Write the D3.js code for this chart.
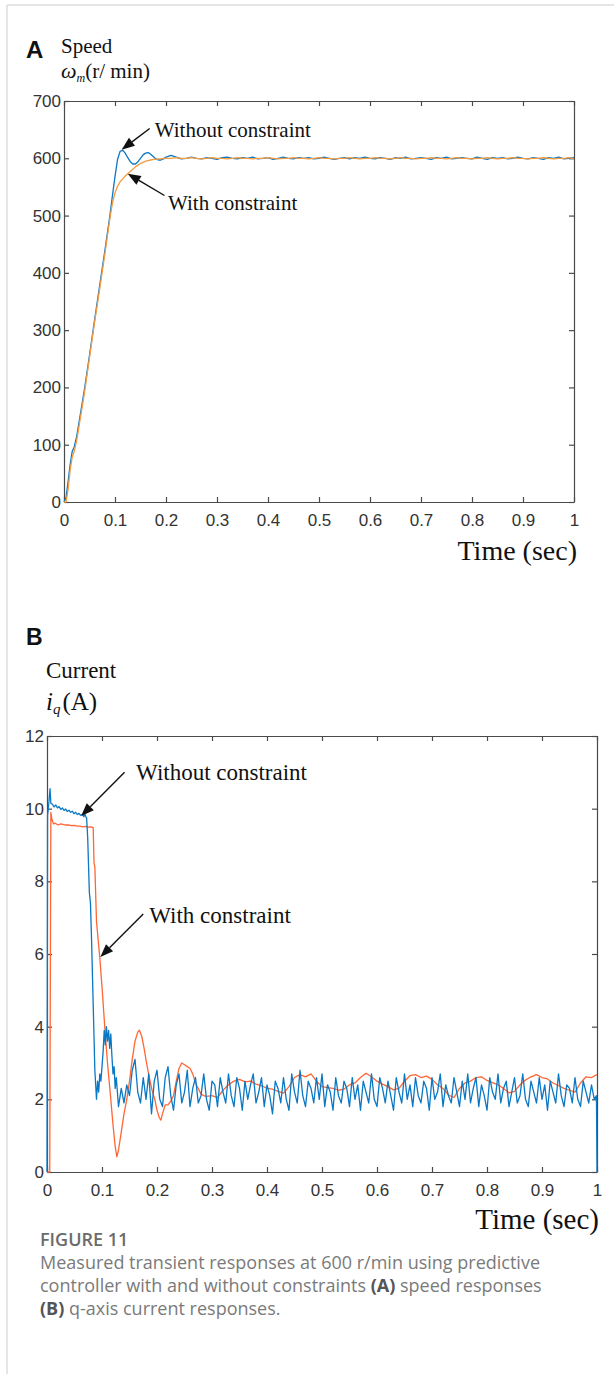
<!DOCTYPE html>
<html>
<head>
<meta charset="utf-8">
<script src="https://cdn.jsdelivr.net/npm/d3@7"></script>
<style>
body { margin: 0; background: #fff; }
</style>
</head>
<body>
<div id="content"></div>
<script>
// Set up canvas
var width = 614, height = 1374;

// ---- Panel A: speed (r/min) ----
var speedTime = [0, 0.004, 0.008, 0.012, 0.016, 0.02, 0.025, 0.03, 0.04, 0.05, 0.06, 0.07, 0.08, 0.09, 0.095,
  0.1, 0.105, 0.11, 0.115, 0.12, 0.125, 0.13, 0.135, 0.14, 0.145, 0.15, 0.155, 0.16, 0.165, 0.17, 0.175,
  0.18, 0.185, 0.19, 0.195, 0.2, 0.21, 0.22];
var speedWithout = [0, 8, 35, 65, 88, 96, 115, 142, 196, 256, 318, 378, 438, 500, 535,
  568, 598, 612, 614, 609, 601, 594, 590, 590, 594, 600, 606, 609, 610, 607, 603,
  599, 597, 597, 599, 602, 605, 602];
var speedWith = [0, 0, 22, 55, 78, 88, 108, 135, 190, 252, 314, 372, 432, 495, 522,
  540, 551, 559, 564, 569, 573, 577, 581, 585, 588, 591, 593, 595, 596, 597, 598,
  598, 599, 599, 600, 600, 600, 601];
// steady part, sampled every 0.01 s from 0.23 s
var steadyStartA = 0.23, steadyStepA = 0.01;
var speedWithoutSteady = [599, 600, 602, 600, 599, 601, 600, 598, 601, 602,
  600, 599, 601, 600, 602, 599, 600, 601, 598, 600,
  602, 600, 599, 601, 600, 601, 599, 600, 602, 600,
  598, 600, 601, 599, 601, 600, 602, 600, 599, 601,
  600, 598, 601, 600, 602, 599, 600, 601, 600, 598,
  601, 600, 602, 599, 600, 601, 600, 599, 602, 600,
  598, 601, 600, 601, 599, 600, 602, 600, 599, 601,
  600, 598, 601, 600, 602, 599, 600, 601];
var speedWithSteady = [600, 600, 601, 600, 599, 600, 601, 600, 600, 599,
  600, 601, 600, 600, 599, 600, 600, 601, 600, 599,
  600, 600, 601, 600, 600, 599, 600, 601, 600, 600,
  599, 600, 600, 601, 600, 599, 600, 600, 601, 600,
  600, 599, 600, 601, 600, 600, 599, 600, 600, 601,
  600, 600, 599, 600, 601, 600, 600, 599, 600, 600,
  601, 600, 599, 600, 600, 601, 600, 600, 599, 600,
  600, 601, 600, 599, 600, 600, 601, 599];
var speedTicks = [0, 100, 200, 300, 400, 500, 600, 700];
var timeTicks = [0, 0.1, 0.2, 0.3, 0.4, 0.5, 0.6, 0.7, 0.8, 0.9, 1];

// ---- Panel B: q-axis current (A) ----
var curBlueTime = [0, 0.001, 0.003, 0.0055, 0.007, 0.01, 0.013, 0.016, 0.019, 0.022, 0.025, 0.028, 0.031,
  0.034, 0.037, 0.04, 0.043, 0.046, 0.049, 0.052, 0.055, 0.058, 0.061, 0.064, 0.067, 0.069, 0.071, 0.072,
  0.074, 0.077, 0.079, 0.081, 0.084, 0.087, 0.09, 0.092, 0.094, 0.096, 0.098, 0.1, 0.102, 0.104, 0.106,
  0.108, 0.11, 0.112, 0.114, 0.116, 0.118, 0.12, 0.122, 0.124, 0.126];
var curBlueEarly = [0, 9.8, 10.1, 10.55, 10.15, 10.12, 10.05, 10.1, 10.02, 10.06, 9.98, 10.02, 9.95,
  9.99, 9.92, 9.96, 9.9, 9.93, 9.86, 9.9, 9.84, 9.87, 9.82, 9.84, 9.78, 9.85, 9.76, 9.75,
  9.2, 7.7, 7.4, 6.4, 4.6, 2.8, 2.0, 2.5, 2.2, 2.7, 2.5, 2.9, 3.3, 3.9, 3.5,
  4.0, 3.6, 3.9, 3.4, 3.8, 3.2, 2.7, 2.9, 2.3, 2.6];
// steady part, sampled every 0.005 s from 0.13 s
var steadyStartB = 0.13, steadyStepB = 0.005;
var curBlueSteady = [1.8, 2.3, 1.9, 2.4, 2.1, 2.8, 3.1, 2.2, 1.9, 2.6,
  2.0, 2.7, 1.6, 2.5, 2.8, 2.0, 1.8, 2.6, 2.9, 2.1,
  1.7, 2.4, 2.7, 1.9, 2.2, 2.8, 1.8, 2.3, 2.6, 1.9,
  2.1, 2.7, 2.0, 1.7, 2.5, 2.4, 1.8, 2.6, 2.2, 1.9,
  2.7, 2.1, 1.8, 2.6, 2.3, 1.7, 2.5, 2.0, 2.4, 2.7,
  1.9, 2.2, 2.6, 1.8, 2.4, 2.1, 1.6, 2.5, 2.3, 1.9,
  2.6, 2.0, 1.7, 2.7, 2.2, 1.9, 2.8, 2.1, 1.8, 2.5,
  2.3, 1.9, 2.6, 2.0, 2.7, 1.8, 2.4, 2.2, 1.7, 2.6,
  2.1, 1.9, 2.5, 2.3, 1.8, 2.6, 2.0, 2.4, 1.7, 2.5,
  2.2, 1.9, 2.7, 2.0, 1.8, 2.6, 2.3, 1.9, 2.5, 2.1,
  1.7, 2.6, 2.2, 1.9, 2.7, 2.0, 2.4, 1.8, 2.6, 2.1,
  1.9, 2.5, 2.3, 1.7, 2.6, 2.0, 2.2, 2.7, 1.8, 2.4,
  2.1, 1.9, 2.6, 2.2, 1.8, 2.5, 2.0, 2.7, 1.9, 2.3,
  2.6, 1.8, 2.4, 2.1, 1.7, 2.6, 2.2, 2.0, 2.7, 1.9,
  2.3, 2.5, 1.8, 2.2, 2.6, 1.9, 2.1, 2.7, 2.0, 1.8,
  2.5, 2.2, 1.9, 2.6, 2.0, 2.4, 1.7, 2.5, 2.2, 1.9,
  2.7, 2.1, 1.8, 2.4, 2.3, 1.9, 2.6, 2.0, 1.8, 2.5,
  2.2, 1.9, 2.4, 2.0];
var curBlueEndTime = [0.999, 1.0];
var curBlueEnd = [2.1, 0];

var curOrangeTime = [0, 0.005, 0.006, 0.007, 0.009, 0.012, 0.015, 0.02, 0.025, 0.03, 0.035, 0.04, 0.045,
  0.05, 0.055, 0.06, 0.065, 0.07, 0.075, 0.08, 0.084, 0.0855, 0.087, 0.09, 0.093, 0.096, 0.1, 0.105,
  0.11, 0.116, 0.12, 0.124, 0.127, 0.13, 0.135, 0.14, 0.145, 0.15, 0.155, 0.16, 0.165, 0.168, 0.172,
  0.176, 0.181, 0.186, 0.191, 0.196, 0.2, 0.204, 0.207, 0.21, 0.215, 0.22, 0.225, 0.23, 0.235, 0.24,
  0.245, 0.25, 0.255, 0.26, 0.265, 0.27, 0.275, 0.28, 0.285, 0.29, 0.3, 0.31];
var curOrangeEarly = [0, 0, 5, 9.9, 9.7, 9.58, 9.6, 9.55, 9.58, 9.56, 9.55, 9.55, 9.53,
  9.54, 9.52, 9.52, 9.5, 9.51, 9.49, 9.5, 9.48, 8.5, 8.4, 6.9, 6.4, 5.9, 5.1, 4.0,
  3.0, 2.0, 1.3, 0.7, 0.42, 0.6, 1.1, 1.6, 2.0, 2.5, 3.1, 3.6, 3.85, 3.9, 3.75,
  3.45, 3.0, 2.6, 2.25, 2.0, 1.7, 1.5, 1.43, 1.6, 1.85, 1.85, 1.95, 2.1, 2.5, 2.85,
  3.0, 2.95, 2.9, 2.85, 2.7, 2.45, 2.3, 2.15, 2.1, 2.08, 2.1, 2.05];
// steady part, sampled every 0.01 s from 0.32 s
var orangeStartB = 0.32, orangeStepB = 0.01;
var curOrangeSteady = [2.25, 2.4, 2.5, 2.55, 2.48, 2.5, 2.42, 2.38, 2.3, 2.28,
  2.22, 2.17, 2.35, 2.6, 2.68, 2.62, 2.7, 2.5, 2.35, 2.32,
  2.3, 2.25, 2.28, 2.4, 2.45, 2.6, 2.72, 2.62, 2.5, 2.42,
  2.35, 2.26, 2.3, 2.5, 2.65, 2.68, 2.6, 2.64, 2.55, 2.4,
  2.3, 2.12, 2.05, 2.3, 2.45, 2.5, 2.6, 2.62, 2.52, 2.46,
  2.4, 2.3, 2.18, 2.22, 2.4, 2.53, 2.62, 2.68, 2.6, 2.56,
  2.45, 2.38, 2.3, 2.25, 2.2, 2.45, 2.62, 2.6, 2.68];
var currentTicks = [0, 2, 4, 6, 8, 10, 12];

// annotations: [text, text time, text value, arrow tail time, tail value, tip time, tip value]
var notesA = [["Without constraint", 0.178, 637, 0.168, 652, 0.113, 615],
              ["With constraint", 0.204, 510, 0.197, 535, 0.125, 573]];
var notesB = [["Without constraint", 0.162, 10.79, 0.141, 11.0, 0.062, 9.8],
              ["With constraint", 0.186, 6.85, 0.175, 7.1, 0.097, 5.92]];

var blue = "#0b78c4", orangeA = "#f59a3e", orangeB = "#ff6633";

function build(times, vals) {
  return times.map(function(t, i) { return [t, vals[i]]; });
}
function steady(start, step, vals) {
  return vals.map(function(v, i) { return [start + i * step, v]; });
}

var svg = d3.select("#content")
    .append("svg")
    .attr("width", width)
    .attr("height", height);

// page frame
svg.append("line").attr("x1", 7).attr("y1", 5).attr("x2", width).attr("y2", 5)
    .attr("stroke", "#dcdcdc").attr("stroke-width", 1.5);
svg.append("line").attr("x1", 7).attr("y1", 5).attr("x2", 7).attr("y2", height)
    .attr("stroke", "#dcdcdc").attr("stroke-width", 1.5);

var xA = d3.scaleLinear().domain([0, 1]).range([64, 574]);
var yA = d3.scaleLinear().domain([0, 700]).range([502, 101]);
var xB = d3.scaleLinear().domain([0, 1]).range([47, 597]);
var yB = d3.scaleLinear().domain([0, 12]).range([1172, 736]);

function drawAxes(x, y, xt, yt) {
    var x0 = x.range()[0], x1 = x.range()[1];
    var y0 = y.range()[0], y1 = y.range()[1];
    var fmt = d3.format("~g");
    var g = svg.append("g").attr("class", "axes");
    g.append("g").attr("transform", "translate(0," + y0 + ")")
        .call(d3.axisBottom(x).tickValues(xt).tickSize(-5).tickSizeOuter(0).tickPadding(12).tickFormat(fmt));
    g.append("g").attr("transform", "translate(" + x0 + ",0)")
        .call(d3.axisLeft(y).tickValues(yt).tickSize(-5).tickSizeOuter(0).tickPadding(3).tickFormat(fmt));
    g.append("g").attr("transform", "translate(0," + y1 + ")")
        .call(d3.axisTop(x).tickValues(xt).tickSize(-5).tickSizeOuter(0).tickFormat(""));
    g.append("g").attr("transform", "translate(" + x1 + ",0)")
        .call(d3.axisRight(y).tickValues(yt).tickSize(-5).tickSizeOuter(0).tickFormat(""));
    g.selectAll("path, line").attr("stroke", "#4a4a4a").attr("stroke-width", 1.2);
    g.selectAll("text").attr("fill", "#333").style("font-family", "Liberation Sans, Arial, sans-serif")
        .style("font-size", "17px");
}

function drawLine(x, y, pts, color) {
    var line = d3.line().x(function(d) { return x(d[0]); }).y(function(d) { return y(d[1]); });
    svg.append("path").datum(pts)
        .attr("d", line)
        .attr("fill", "none")
        .attr("stroke", color)
        .attr("stroke-width", 1.3)
        .attr("stroke-linejoin", "round");
}

function drawNotes(x, y, notes, size) {
    notes.forEach(function(n) {
        svg.append("text")
            .attr("x", x(n[1])).attr("y", y(n[2]))
            .style("font-family", "Liberation Serif, Times New Roman, serif")
            .style("font-size", size + "px")
            .attr("fill", "#111")
            .text(n[0]);
        var tx = x(n[3]), ty = y(n[4]), hx = x(n[5]), hy = y(n[6]);
        var ang = Math.atan2(hy - ty, hx - tx);
        var len = 13, half = 5;
        var bx = hx - len * Math.cos(ang), by = hy - len * Math.sin(ang);
        svg.append("line").attr("x1", tx).attr("y1", ty).attr("x2", bx).attr("y2", by)
            .attr("stroke", "#111").attr("stroke-width", 1.4);
        svg.append("path")
            .attr("d", "M" + hx + "," + hy +
                "L" + (bx + half * Math.sin(ang)) + "," + (by - half * Math.cos(ang)) +
                "L" + (bx - half * Math.sin(ang)) + "," + (by + half * Math.cos(ang)) + "Z")
            .attr("fill", "#111");
    });
}

// ---- Panel A ----
drawAxes(xA, yA, timeTicks, speedTicks);
drawLine(xA, yA, build(speedTime, speedWithout).concat(steady(steadyStartA, steadyStepA, speedWithoutSteady)), blue);
drawLine(xA, yA, build(speedTime, speedWith).concat(steady(steadyStartA, steadyStepA, speedWithSteady)), orangeA);
drawNotes(xA, yA, notesA, 21);

var serif = "Liberation Serif, Times New Roman, serif";
svg.append("text").attr("x", 26).attr("y", 58)
    .style("font-family", "Liberation Sans, Arial, sans-serif").style("font-weight", "bold")
    .style("font-size", "24px").attr("fill", "#111").text("A");
svg.append("text").attr("x", 61).attr("y", 53)
    .style("font-family", serif).style("font-size", "21px").attr("fill", "#111").text("Speed");
var lab = svg.append("text").attr("x", 61).attr("y", 78)
    .style("font-family", serif).style("font-size", "21px").attr("fill", "#111");
lab.append("tspan").style("font-style", "italic").style("font-size", "22px").text("ω");
lab.append("tspan").style("font-style", "italic").style("font-size", "12px").attr("dy", 4).text("m");
lab.append("tspan").attr("dy", -4).text("(r/ min)");
svg.append("text").attr("x", xA.range()[1] + 3).attr("y", yA.range()[0] + 58)
    .attr("text-anchor", "end")
    .style("font-family", serif).style("font-size", "28px").attr("fill", "#111").text("Time (sec)");

// ---- Panel B ----
drawAxes(xB, yB, timeTicks, currentTicks);
drawLine(xB, yB, build(curOrangeTime, curOrangeEarly).concat(steady(orangeStartB, orangeStepB, curOrangeSteady)), orangeB);
drawLine(xB, yB, build(curBlueTime, curBlueEarly)
    .concat(steady(steadyStartB, steadyStepB, curBlueSteady))
    .concat(build(curBlueEndTime, curBlueEnd)), blue);
drawNotes(xB, yB, notesB, 23);

svg.append("text").attr("x", 26).attr("y", 645)
    .style("font-family", "Liberation Sans, Arial, sans-serif").style("font-weight", "bold")
    .style("font-size", "23px").attr("fill", "#111").text("B");
svg.append("text").attr("x", 46).attr("y", 678)
    .style("font-family", serif).style("font-size", "23px").attr("fill", "#111").text("Current");
var labB = svg.append("text").attr("x", 46).attr("y", 710)
    .style("font-family", serif).style("font-size", "25px").attr("fill", "#111");
labB.append("tspan").style("font-style", "italic").text("i");
labB.append("tspan").style("font-style", "italic").style("font-size", "15px").attr("dy", 4).text("q");
labB.append("tspan").attr("dy", -4).attr("dx", 2).text("(A)");
svg.append("text").attr("x", xB.range()[1] + 2).attr("y", yB.range()[0] + 57)
    .attr("text-anchor", "end")
    .style("font-family", serif).style("font-size", "29px").attr("fill", "#111").text("Time (sec)");

// ---- caption ----
var capFont = "Open Sans, Noto Sans, sans-serif";
svg.append("text").attr("x", 40).attr("y", 1246)
    .style("font-family", capFont).style("font-size", "18px").style("font-weight", "600")
    .attr("fill", "#6b6b6b").text("FIGURE 11");
var capLines = [
    [["Measured transient responses at 600 r/min using predictive", false]],
    [["controller with and without constraints ", false], ["(A)", true], [" speed responses", false]],
    [["(B)", true], [" q-axis current responses.", false]]
];
capLines.forEach(function(parts, i) {
    var t = svg.append("text").attr("x", 40).attr("y", 1269 + i * 23)
        .style("font-family", capFont).style("font-size", "18px").attr("fill", "#7a7a7a")
        .attr("xml:space", "preserve");
    parts.forEach(function(p) {
        t.append("tspan").text(p[0])
            .style("font-weight", p[1] ? "700" : "400")
            .attr("fill", p[1] ? "#555" : "#7a7a7a");
    });
});
</script>
</body>
</html>
